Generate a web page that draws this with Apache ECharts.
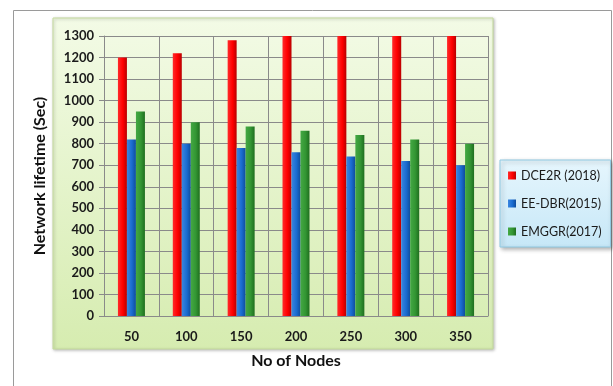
<!DOCTYPE html>
<html>
<head>
<meta charset="utf-8">
<script src="https://cdn.jsdelivr.net/npm/echarts@6/dist/echarts.min.js"></script>
<style>
  html, body { margin: 0; padding: 0; background: #ffffff; }
  #chart { width: 613px; height: 386px; }
</style>
</head>
<body>
<div id="chart"></div>
<script>
// Network lifetime per protocol against the number of nodes
const nodeCounts = ['50', '100', '150', '200', '250', '300', '350'];
const dce2r = [1200, 1220, 1280, 1300, 1300, 1300, 1300];
const eeDbr = [820, 800, 780, 760, 740, 720, 700];
const emggr = [950, 900, 880, 860, 840, 820, 800];
const seriesNames = ['DCE2R (2018)', 'EE-DBR(2015)', 'EMGGR(2017)'];

const FONT = 'Lato, "Open Sans", sans-serif';

// Horizontal shading gives each column a rounded, lit look
function shade(light, mid, dark) {
  return new echarts.graphic.LinearGradient(0, 0, 1, 0, [
    { offset: 0, color: light },
    { offset: 0.55, color: mid },
    { offset: 1, color: dark }
  ]);
}

const chart = echarts.init(document.getElementById('chart'), null, { renderer: 'canvas' });

chart.setOption({
  animation: false,
  textStyle: { fontFamily: FONT },
  graphic: [
    {
      type: 'rect', z: -10, silent: true,
      shape: { x: 13.5, y: 10.5, width: 598, height: 400 },
      style: { fill: '#ffffff', stroke: '#9a9a9a', lineWidth: 1 }
    },
    {
      type: 'rect', z: -9, silent: true,
      shape: { x: 53, y: 18, width: 440, height: 331 },
      style: {
        fill: new echarts.graphic.LinearGradient(0, 0, 0, 1, [
          { offset: 0, color: '#f3fbe6' },
          { offset: 1, color: '#d6ecb0' }
        ]),
        stroke: '#c4da9c', lineWidth: 1,
        shadowBlur: 3, shadowColor: 'rgba(0,0,0,0.25)', shadowOffsetX: 1, shadowOffsetY: 1
      }
    }
  ],
  legend: {
    orient: 'vertical',
    left: 500, top: 160,
    width: 109,
    padding: [9, 9, 9, 8],
    itemGap: 15,
    itemWidth: 8, itemHeight: 8,
    icon: 'rect',
    backgroundColor: new echarts.graphic.LinearGradient(0, 0, 0, 1, [
      { offset: 0, color: '#e6f6fd' },
      { offset: 1, color: '#c6e7f7' }
    ]),
    borderColor: '#8fc9e2', borderWidth: 1,
    shadowBlur: 4, shadowColor: 'rgba(0,0,0,0.3)', shadowOffsetX: 2, shadowOffsetY: 2,
    textStyle: { fontFamily: FONT, fontSize: 12.5, color: '#1a1a1a' },
    data: seriesNames
  },
  grid: { left: 104, right: 125, top: 36, bottom: 70 },
  xAxis: {
    type: 'category',
    data: nodeCounts,
    name: 'No of Nodes',
    nameLocation: 'middle',
    nameGap: 37,
    nameTextStyle: { fontFamily: FONT, fontSize: 16, fontWeight: 'bold', color: '#111' },
    axisLine: { show: true, lineStyle: { color: '#8a8a8a' } },
    axisTick: { show: false },
    axisLabel: { margin: 14, fontFamily: FONT, fontSize: 13, fontWeight: 'bold', color: '#1a1a1a' },
    splitLine: { show: true, interval: 0, lineStyle: { color: '#8a8a8a', width: 1 } }
  },
  yAxis: {
    type: 'value',
    min: 0, max: 1300, interval: 100,
    name: 'Network lifetime (Sec)',
    nameLocation: 'middle',
    nameGap: 56,
    nameTextStyle: { fontFamily: FONT, fontSize: 16, fontWeight: 'bold', color: '#111' },
    axisLine: { show: true, lineStyle: { color: '#8a8a8a' } },
    axisTick: { show: true, length: 5, lineStyle: { color: '#8a8a8a' } },
    axisLabel: {
      margin: 10, fontFamily: FONT, fontSize: 13, fontWeight: 'bold', color: '#1a1a1a',
      formatter: (v) => String(v)
    },
    splitLine: { show: true, lineStyle: { color: '#8a8a8a', width: 1 } }
  },
  series: [
    {
      name: seriesNames[0], type: 'bar', data: dce2r,
      barWidth: 9, barGap: '0%',
      itemStyle: { color: shade('#ff2a2a', '#ff0000', '#b80000') }
    },
    {
      name: seriesNames[1], type: 'bar', data: eeDbr,
      barWidth: 9, barGap: '0%',
      itemStyle: { color: shade('#3a86e0', '#1a6cd0', '#0f4c9c') }
    },
    {
      name: seriesNames[2], type: 'bar', data: emggr,
      barWidth: 9, barGap: '0%',
      itemStyle: { color: shade('#44a844', '#339633', '#1f6e1f') }
    }
  ]
});
</script>
</body>
</html>
